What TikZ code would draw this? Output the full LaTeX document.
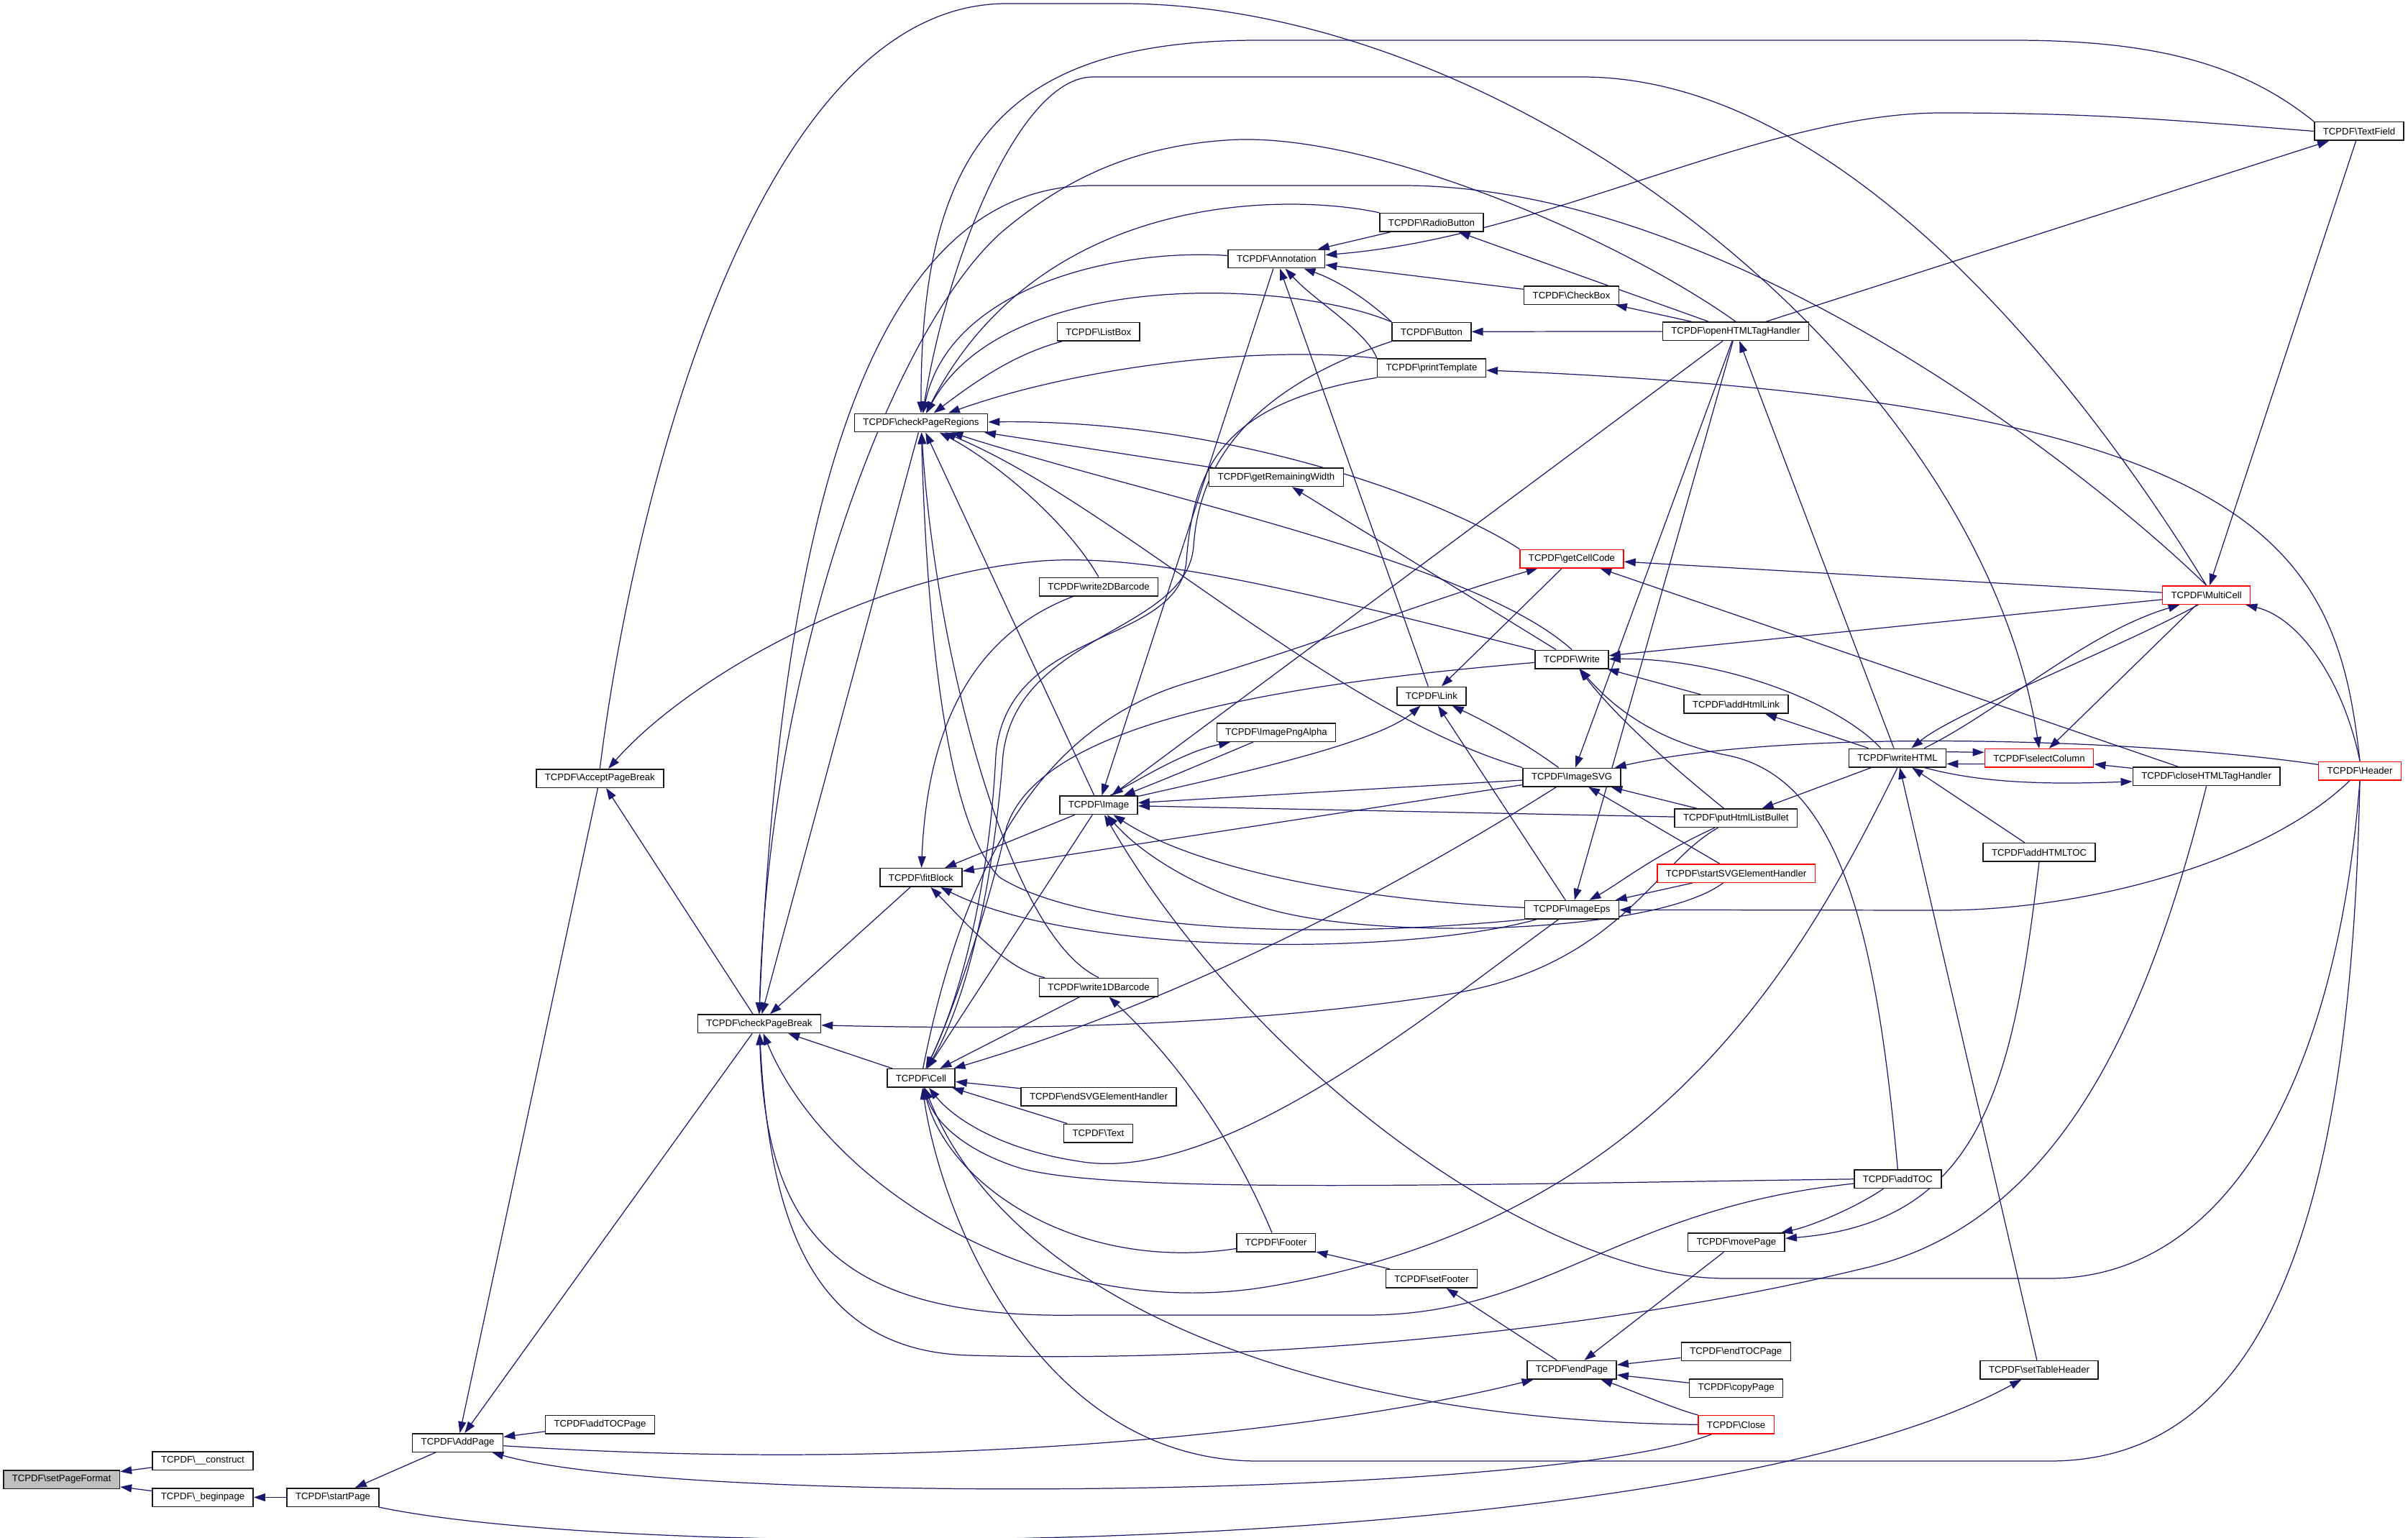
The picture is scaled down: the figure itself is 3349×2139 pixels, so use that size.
\documentclass[tikz,border=0pt]{standalone}
\usepackage{fontspec}
\setmainfont{Liberation Sans}
\usetikzlibrary{arrows.meta}
\definecolor{edgec}{RGB}{25,25,112}
\newcommand\tcp[1]{TCPDF\textbackslash{}#1}
\pgfdeclarelayer{bg}
\pgfsetlayers{bg,main}
\begin{document}
\begin{tikzpicture}[x=0.02cm,y=-0.02cm,
  fn/.style={draw=black!90, line width=0.85pt, fill=white, inner xsep=0.24cm, inner ysep=0pt, minimum height=0.51cm, font=\fontsize{7.5}{9}\selectfont},
  rn/.style={fn, draw=red},
  e/.style={draw=edgec, line width=0.7pt, -{Triangle[length=0.32cm,width=0.22cm]}}]
\useasboundingbox (0,0) rectangle (3349,2139);
% nodes
\node[fn, fill=black!25] (spf) at (85.6,2057.5) {\tcp{setPageFormat}};
\node[fn] (con) at (282,2031.5) {\tcp{\_\_construct}};
\node[fn] (bp) at (282,2082.5) {\tcp{\_beginpage}};
\node[fn] (sp) at (463,2082.5) {\tcp{startPage}};
\node[fn] (ap) at (636.6,2006.5) {\tcp{AddPage}};
\node[fn] (atp) at (834.5,1981) {\tcp{addTOCPage}};
\node[fn] (apb) at (834.3,1082.5) {\tcp{AcceptPageBreak}};
\node[fn] (cpb) at (1055.9,1423.8) {\tcp{checkPageBreak}};
\node[fn] (cpr) at (1281,588) {\tcp{checkPageRegions}};
\node[fn] (fb) at (1281,1220.4) {\tcp{fitBlock}};
\node[fn] (cell) at (1281,1499.4) {\tcp{Cell}};
\node[fn] (lb) at (1527.8,461.3) {\tcp{ListBox}};
\node[fn] (w2d) at (1528,816) {\tcp{write2DBarcode}};
\node[fn] (img) at (1528,1119.7) {\tcp{Image}};
\node[fn] (w1d) at (1528,1373) {\tcp{write1DBarcode}};
\node[fn] (esvg) at (1528,1525) {\tcp{endSVGElementHandler}};
\node[fn] (txt) at (1527.5,1576) {\tcp{Text}};
\node[fn] (ann) at (1775.3,360) {\tcp{Annotation}};
\node[fn] (grw) at (1775,663.8) {\tcp{getRemainingWidth}};
\node[fn] (ipa) at (1775,1018.6) {\tcp{ImagePngAlpha}};
\node[fn] (ftr) at (1774.7,1728) {\tcp{Footer}};
\node[fn] (rb) at (1991,309.3) {\tcp{RadioButton}};
\node[fn] (btn) at (1991,461.3) {\tcp{Button}};
\node[fn] (pt) at (1991,511.8) {\tcp{printTemplate}};
\node[fn] (lnk) at (1991,968) {\tcp{Link}};
\node[fn] (sf) at (1991,1778.3) {\tcp{setFooter}};
\node[fn] (cb) at (2185.5,410.5) {\tcp{CheckBox}};
\node[rn] (gcc) at (2186,777) {\tcp{getCellCode}};
\node[fn] (wr) at (2186,917) {\tcp{Write}};
\node[fn] (isvg) at (2186,1081) {\tcp{ImageSVG}};
\node[fn] (ieps) at (2186,1265.3) {\tcp{ImageEps}};
\node[fn] (ep) at (2186,1905.2) {\tcp{endPage}};
\node[fn] (ohth) at (2414,460.8) {\tcp{openHTMLTagHandler}};
\node[fn] (ahl) at (2414.5,979.3) {\tcp{addHtmlLink}};
\node[fn] (phlb) at (2414.3,1137.8) {\tcp{putHtmlListBullet}};
\node[rn] (ssvg) at (2414.5,1214.5) {\tcp{startSVGElementHandler}};
\node[fn] (mp) at (2414.9,1727.8) {\tcp{movePage}};
\node[fn] (etp) at (2414.3,1879.8) {\tcp{endTOCPage}};
\node[fn] (cp) at (2414.6,1930.5) {\tcp{copyPage}};
\node[rn] (cls) at (2414.6,1981.3) {\tcp{Close}};
\node[fn] (whtml) at (2639,1054) {\tcp{writeHTML}};
\node[fn] (atoc) at (2639.3,1639.8) {\tcp{addTOC}};
\node[rn] (sc) at (2836,1054.4) {\tcp{selectColumn}};
\node[fn] (ahtoc) at (2836,1185.3) {\tcp{addHTMLTOC}};
\node[fn] (sth) at (2836,1905.2) {\tcp{setTableHeader}};
\node[rn] (mc) at (3068.6,827.6) {\tcp{MultiCell}};
\node[fn] (chth) at (3068.6,1079.7) {\tcp{closeHTMLTagHandler}};
\node[fn] (tf) at (3281,182.5) {\tcp{TextField}};
\node[rn] (hdr) at (3282,1072) {\tcp{Header}};
\begin{pgfonlayer}{bg}
% bottom left
\draw[e] (con) -- (spf);
\draw[e] (bp) -- (spf);
\draw[e] (sp) -- (bp);
\draw[e] (ap) -- (sp);
\draw[e] (atp) -- (ap);
\draw[e] (apb) -- (ap);
\draw[e] (cpb) -- (ap);
\draw[e] (cls) .. controls (2150,2085) and (950,2095) .. (ap);
\draw[e] (ap) .. controls (1300,2050) and (1850,1990) .. (ep);
\draw[e] (sp) .. controls (900,2175) and (2350,2170) .. (sth);
\draw[e] (cpb) -- (apb);
\draw[e] (apb.north) .. controls (880,700) and (1050,5) .. (1400,5) -- (1560,5) .. controls (2100,5) and (2750,500) .. (sc.north);
% checkPageBreak
\draw[e] (cpr) -- (cpb);
\draw[e] (fb) -- (cpb);
\draw[e] (cell) -- (cpb);
\draw[e] (ohth.north) .. controls (2250,330) and (1900,180) .. (1705,195) .. controls (1560,205) and (1470,260) .. (1400,317) .. controls (1250,440) and (1070,900) .. (cpb.north);
\draw[e] (mc.north) .. controls (2900,650) and (2400,258) .. (1950,258) -- (1520,258) .. controls (1250,258) and (1090,600) .. (cpb.north);
\draw[e] (whtml.south) .. controls (2500,1350) and (2300,1700) .. (1760,1790) .. controls (1450,1840) and (1150,1650) .. (cpb);
\draw[e] (atoc) .. controls (2250,1680) and (2150,1829) .. (1900,1829) -- (1500,1829) .. controls (1150,1835) and (1065,1700) .. (cpb);
\draw[e] (chth.south) .. controls (2980,1450) and (2850,1700) .. (2600,1762) .. controls (2200,1860) and (1700,1895) .. (1350,1885) .. controls (1130,1880) and (1070,1700) .. (cpb);
\draw[e] (phlb) .. controls (2300,1200) and (2250,1350) .. (2000,1385) .. controls (1700,1430) and (1400,1432) .. (cpb);
% checkPageRegions
\draw[e] (tf.north west) .. controls (3120,90) and (3000,56) .. (2800,56) -- (1750,56) .. controls (1400,56) and (1280,200) .. (cpr.north);
\draw[e] (mc.north) .. controls (2950,620) and (2600,107) .. (2200,107) -- (1520,107) .. controls (1420,107) and (1320,350) .. (cpr);
\draw[e] (rb.north west) .. controls (1800,270) and (1450,260) .. (cpr);
\draw[e] (ann) .. controls (1550,345) and (1320,400) .. (cpr);
\draw[e] (btn.north west) .. controls (1800,390) and (1400,370) .. (cpr);
\draw[e] (lb) .. controls (1420,490) and (1370,520) .. (cpr);
\draw[e] (pt.north west) .. controls (1750,480) and (1500,510) .. (cpr);
\draw[e] (gcc.north west) .. controls (2000,690) and (1700,583) .. (cpr);
\draw[e] (grw) -- (cpr);
\draw[e] (wr.north) .. controls (2050,780) and (1600,690) .. (cpr);
\draw[e] (w2d.north) .. controls (1480,720) and (1380,640) .. (cpr);
\draw[e] (img) -- (cpr);
\draw[e] (w1d.north) .. controls (1400,1300) and (1300,900) .. (cpr);
\draw[e] (isvg.north west) .. controls (1850,990) and (1550,700) .. (cpr);
\draw[e] (ieps.south west) .. controls (1800,1310) and (1500,1290) .. (1390,1220) .. controls (1320,1150) and (1290,900) .. (cpr);
% Annotation
\draw[e] (rb) -- (ann);
\draw[e] (tf.west) .. controls (3000,165) and (2900,157) .. (2700,157) .. controls (2450,157) and (2150,330) .. (ann);
\draw[e] (cb) -- (ann);
\draw[e] (btn.north west) .. controls (1900,415) and (1860,390) .. (ann);
\draw[e] (pt.north west) .. controls (1900,460) and (1830,420) .. (ann);
\draw[e] (lnk) -- (ann);
\draw[e] (ann) -- (img);
% openHTMLTagHandler
\draw[e] (ohth) -- (rb);
\draw[e] (ohth) -- (cb);
\draw[e] (ohth) -- (btn);
\draw[e] (ohth) -- (tf);
\draw[e] (ohth) -- (img);
\draw[e] (ohth) -- (isvg);
\draw[e] (ohth) -- (ieps);
\draw[e] (whtml) -- (ohth);
% printTemplate, Button
\draw[e] (hdr.north) .. controls (3250,760) and (3150,560) .. (pt);
\draw[e] (pt.south west) .. controls (1700,560) and (1660,650) .. (1650,780) .. controls (1640,900) and (1400,870) .. (1385,1050) .. controls (1375,1250) and (1330,1400) .. (cell);
\draw[e] (btn.south west) .. controls (1800,520) and (1670,600) .. (1660,760) .. controls (1650,880) and (1415,880) .. (1395,1050) .. controls (1380,1250) and (1340,1400) .. (cell);
% getRemainingWidth, getCellCode
\draw[e] (wr) -- (grw);
\draw[e] (gcc) -- (lnk);
\draw[e] (mc) -- (gcc);
\draw[e] (chth) -- (gcc);
\draw[e] (cell) .. controls (1340,1200) and (1450,1010) .. (1650,950) .. controls (1850,890) and (2000,830) .. (gcc);
% Write
\draw[e] (wr) .. controls (1800,820) and (1600,770) .. (1450,780) .. controls (1200,800) and (950,950) .. (apb);
\draw[e] (wr) .. controls (1800,950) and (1450,1000) .. (1400,1150) .. controls (1370,1280) and (1320,1420) .. (cell);
\draw[e] (mc) -- (wr);
\draw[e] (whtml.150) .. controls (2560,980) and (2400,915) .. (wr);
\draw[e] (ahl) -- (wr);
\draw[e] (phlb) .. controls (2330,1070) and (2250,1000) .. (wr);
\draw[e] (atoc.north) .. controls (2610,1300) and (2560,1080) .. (2400,1050) .. controls (2300,1030) and (2240,980) .. (wr);
% Link, ImagePngAlpha
\draw[e] (img) .. controls (1750,1070) and (1920,1030) .. (lnk);
\draw[e] (isvg) .. controls (2130,1040) and (2080,1010) .. (lnk);
\draw[e] (ieps) -- (lnk);
\draw[e] (img.40) .. controls (1600,1075) and (1650,1045) .. (ipa);
\draw[e] (ipa) .. controls (1700,1050) and (1630,1080) .. (img);
% ImageSVG
\draw[e] (isvg) -- (img);
\draw[e] (isvg) -- (fb);
\draw[e] (isvg) .. controls (1950,1230) and (1650,1390) .. (cell);
\draw[e] (hdr) .. controls (3000,1030) and (2500,1010) .. (isvg);
\draw[e] (phlb) -- (isvg);
\draw[e] (ssvg) -- (isvg);
% ImageEps
\draw[e] (ieps) .. controls (1850,1250) and (1650,1200) .. (img);
\draw[e] (ieps) .. controls (2000,1400) and (1700,1650) .. (1500,1615) .. controls (1400,1600) and (1330,1560) .. (cell);
\draw[e] (ieps) .. controls (1950,1330) and (1500,1330) .. (fb);
\draw[e] (hdr) .. controls (3150,1200) and (2900,1266) .. (2700,1266) -- (ieps);
\draw[e] (ssvg) -- (ieps);
\draw[e] (phlb) .. controls (2300,1190) and (2250,1230) .. (ieps);
\draw[e] (ssvg) .. controls (2300,1300) and (1900,1310) .. (1750,1260) .. controls (1650,1230) and (1580,1180) .. (img);
\draw[e] (phlb) -- (img);
% Header
\draw[e] (hdr.south) .. controls (3250,1500) and (3100,1778) .. (2850,1778) -- (2400,1778) .. controls (2150,1778) and (1750,1500) .. (img);
\draw[e] (hdr.south) .. controls (3270,1700) and (3150,2032) .. (2850,2032) -- (1750,2032) .. controls (1450,2032) and (1310,1700) .. (cell);
\draw[e] (hdr.north) .. controls (3260,950) and (3200,860) .. (mc);
\draw[e] (tf) -- (mc);
% writeHTML
\draw[e] (whtml) -- (ahl);
\draw[e] (whtml) -- (phlb);
\draw[e] (whtml.20) .. controls (2780,990) and (2900,880) .. (mc.200);
\draw[e] (mc.230) .. controls (2950,900) and (2720,990) .. (whtml.35);
\draw[e] (whtml.7) -- (sc.174);
\draw[e] (sc.186) -- (whtml.353);
\draw[e] (whtml.340) .. controls (2760,1090) and (2850,1091) .. (chth.184);
\draw[e] (chth) -- (sc);
\draw[e] (mc) -- (sc);
\draw[e] (sth) -- (whtml);
\draw[e] (ahtoc) -- (whtml);
\draw[e] (ahtoc.south) .. controls (2800,1500) and (2760,1700) .. (mp);
\draw[e] (atoc) .. controls (2580,1680) and (2520,1705) .. (mp);
% endPage and bottom
\draw[e] (mp) -- (ep);
\draw[e] (etp) -- (ep);
\draw[e] (cp) -- (ep);
\draw[e] (cls) .. controls (2330,1960) and (2260,1930) .. (ep);
\draw[e] (ep) -- (sf);
\draw[e] (sf) -- (ftr);
\draw[e] (ftr) .. controls (1700,1550) and (1610,1450) .. (w1d);
\draw[e] (ftr) .. controls (1500,1770) and (1320,1650) .. (cell);
\draw[e] (atoc.west) .. controls (2000,1648) and (1550,1660) .. (1420,1625) .. controls (1340,1600) and (1300,1560) .. (cell);
\draw[e] (cls.west) .. controls (1800,1975) and (1400,1800) .. (cell);
\draw[e] (esvg) -- (cell);
\draw[e] (txt) -- (cell);
\draw[e] (w1d) -- (cell);
\draw[e] (w1d) .. controls (1400,1350) and (1340,1280) .. (fb);
\draw[e] (img) -- (cell);
\draw[e] (img) -- (fb);
\draw[e] (w2d) .. controls (1360,880) and (1290,1000) .. (fb);
\end{pgfonlayer}
\end{tikzpicture}
\end{document}
